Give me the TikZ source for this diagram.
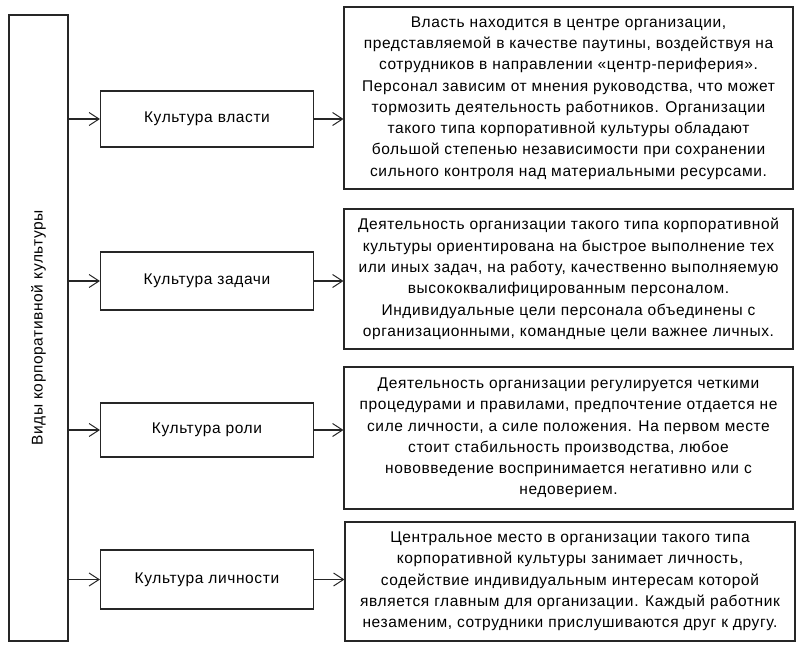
\documentclass[tikz,border=0pt]{standalone}
\usepackage{fontspec}
\setmainfont[LetterSpace=4]{Liberation Sans}
\usetikzlibrary{arrows.meta}
\begin{document}
\begin{tikzpicture}[x=1pt,y=-1pt,line width=1.1pt,draw=black!85,
    font=\fontsize{15.5}{21.3}\selectfont,
    box/.style={draw,rectangle,inner sep=0pt,align=center},
    arr/.style={-{Straight Barb[length=10pt,width=13pt,line width=1pt]}}]
    \useasboundingbox (0,0) rectangle (805,659);
    \node[box,minimum width=59pt,minimum height=626pt] (types) at (38.5,328)
      {\rotatebox{90}{Виды корпоративной культуры}};
    \foreach \n/\y/\h/\t in {
      1/119/56/Культура власти, 2/281/58/Культура задачи,
      3/430/54/Культура роли, 4/579.5/59/Культура личности}
      \node[box,minimum width=213pt,minimum height=\h pt] (m\n) at (207,\y) {\t};
    \node[box,minimum width=449pt,minimum height=182pt] (r1) at (568.5,98)
      {Власть находится в центре организации,\\
       представляемой в качестве паутины, воздействуя на\\
       сотрудников в направлении «центр-периферия».\\
       Персонал зависим от мнения руководства, что может\\
       тормозить деятельность работников. Организации\\
       такого типа корпоративной культуры обладают\\
       большой степенью независимости при сохранении\\
       сильного контроля над материальными ресурсами.};
    \node[box,minimum width=449pt,minimum height=140pt] (r2) at (568.5,279)
      {Деятельность организации такого типа корпоративной\\
       культуры ориентирована на быстрое выполнение тех\\
       или иных задач, на работу, качественно выполняемую\\
       высококвалифицированным персоналом.\\
       Индивидуальные цели персонала объединены с\\
       организационными, командные цели важнее личных.};
    \node[box,minimum width=449pt,minimum height=142pt] (r3) at (568.5,438)
      {Деятельность организации регулируется четкими\\
       процедурами и правилами, предпочтение отдается не\\
       силе личности, а силе положения. На первом месте\\
       стоит стабильность производства, любое\\
       нововведение воспринимается негативно или с\\
       недоверием.};
    \node[box,minimum width=450pt,minimum height=119pt] (r4) at (570,581.5)
      {Центральное место в организации такого типа\\
       корпоративной культуры занимает личность,\\
       содействие индивидуальным интересам которой\\
       является главным для организации. Каждый работник\\
       незаменим, сотрудники прислушиваются друг к другу.};
    \foreach \n in {1,...,4}
      \draw[arr] (types.east |- m\n.west) -- (m\n.west);
    \foreach \n in {1,...,4}
      \draw[arr] (m\n.east) -- (m\n.east -| r\n.west);
  \end{tikzpicture}
\end{document}
